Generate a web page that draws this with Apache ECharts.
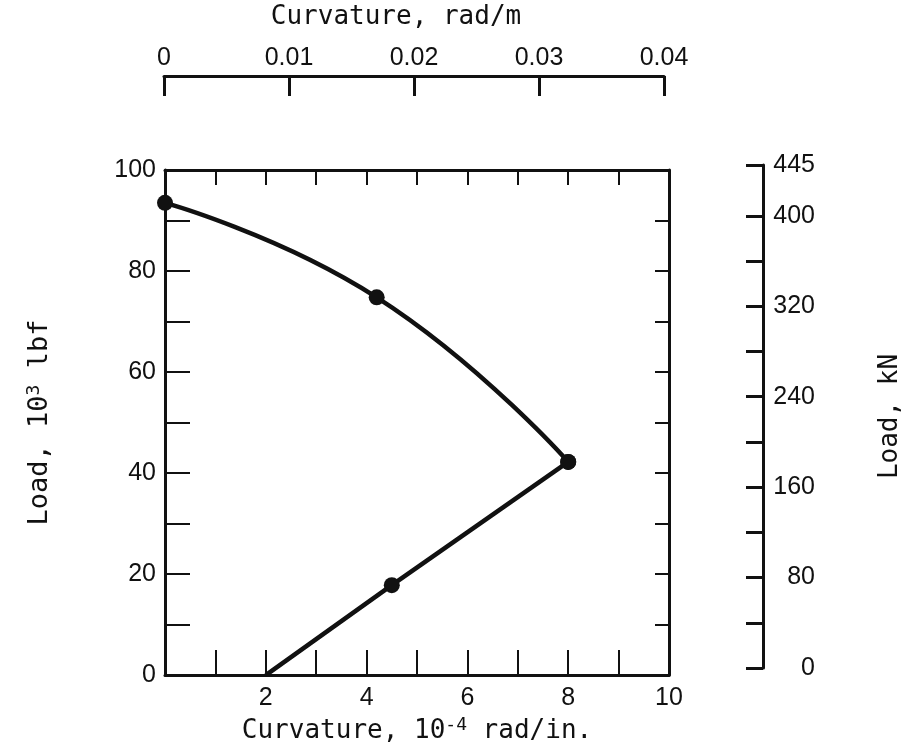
<!DOCTYPE html>
<html>
<head>
<meta charset="utf-8">
<script src="https://cdn.jsdelivr.net/npm/echarts@6/dist/echarts.min.js"></script>
<style>
html,body{margin:0;padding:0;background:#fff;}
#c{width:907px;height:749px;}
</style>
</head>
<body>
<div id="c"></div>
<script>
// Data
const curveX = [0, 4.2, 8.0];          // curvature, 10^-4 rad/in. (upper curved branch)
const curveY = [93.5, 74.8, 42.2];     // load, 10^3 lbf
const lineX = [8.0, 4.5, 2.0];         // lower straight branch
const lineY = [42.2, 17.8, 0];
const lineMarked = [true, true, false];
const bottomLabels = [2, 4, 6, 8, 10];
const leftLabels = [0, 20, 40, 60, 80, 100];
const topLabels = [0, 0.01, 0.02, 0.03, 0.04];
const rightTicks = [0, 40, 80, 120, 160, 200, 240, 280, 320, 360, 400, 445];
const rightLabels = [0, 80, 160, 240, 320, 400, 445];

const INK = '#111';
const numFont = {color: INK, fontFamily: 'Liberation Sans', fontSize: 25};
const titleFont = 'DejaVu Sans Mono';
const axLine = {show: true, onZero: false, lineStyle: {color: INK, width: 3}};
const supStyle = {fontFamily: titleFont, fontSize: 18, verticalAlign: 'top', padding: [0, 0, 12, 0], color: INK};

const chart = echarts.init(document.getElementById('c'), null, {renderer: 'canvas'});

const option = {
  backgroundColor: '#fff',
  animation: false,
  grid: [
    {left: 165, top: 170, width: 504, height: 507},
    {left: 700, top: 165, width: 63, height: 503},
    {left: 164, top: 76, width: 500, height: 30}
  ],
  xAxis: [
    {
      gridIndex: 0, type: 'value', position: 'bottom', min: 0, max: 10, interval: 1,
      axisLine: axLine,
      axisTick: {show: true, inside: true, length: 25, lineStyle: {color: INK, width: 2}},
      splitLine: {show: false},
      axisLabel: Object.assign({}, numFont, {margin: 11,
        formatter: v => bottomLabels.includes(v) ? String(v) : ''}),
      name: 'Curvature, 10{sup|-4} rad/in.',
      nameLocation: 'middle', nameGap: 36,
      nameTextStyle: {color: INK, fontFamily: titleFont, fontSize: 26, rich: {sup: supStyle}}
    },
    {
      gridIndex: 0, type: 'value', position: 'top', min: 0, max: 10, interval: 1,
      axisLine: axLine,
      axisTick: {show: true, inside: true, length: 15, lineStyle: {color: INK, width: 2}},
      splitLine: {show: false},
      axisLabel: {show: false}
    },
    {
      gridIndex: 1, type: 'value', show: false, min: 0, max: 1
    },
    {
      gridIndex: 2, type: 'value', position: 'top', min: 0, max: 0.04, interval: 0.01,
      axisLine: axLine,
      axisTick: {show: true, inside: true, length: 20, lineStyle: {color: INK, width: 3}},
      splitLine: {show: false},
      axisLabel: Object.assign({}, numFont, {margin: 5,
        formatter: v => topLabels.some(t => Math.abs(t - v) < 1e-9) ? (v === 0 ? '0' : v.toFixed(2)) : ''}),
      name: 'Curvature, rad/m',
      nameLocation: 'middle', nameGap: 46,
      nameTextStyle: {color: INK, fontFamily: titleFont, fontSize: 26, padding: [0, 36, 0, 0]}
    }
  ],
  yAxis: [
    {
      gridIndex: 0, type: 'value', position: 'left', min: 0, max: 100, interval: 10,
      axisLine: axLine,
      axisTick: {show: true, inside: true, length: 25, lineStyle: {color: INK, width: 2}},
      splitLine: {show: false},
      axisLabel: Object.assign({}, numFont, {margin: 9,
        formatter: v => leftLabels.includes(v) ? String(v) : ''}),
      name: 'Load, 10{sup|3} lbf',
      nameLocation: 'middle', nameGap: 110, nameRotate: 90,
      nameTextStyle: {color: INK, fontFamily: titleFont, fontSize: 27, rich: {sup: supStyle}}
    },
    {
      gridIndex: 0, type: 'value', position: 'right', min: 0, max: 100, interval: 10,
      axisLine: axLine,
      axisTick: {show: true, inside: true, length: 14, lineStyle: {color: INK, width: 2}},
      splitLine: {show: false},
      axisLabel: {show: false}
    },
    {
      gridIndex: 1, type: 'value', position: 'right', min: 0, max: 445,
      axisLine: axLine,
      axisTick: {show: true, inside: true, length: 17, customValues: rightTicks, lineStyle: {color: INK, width: 3}},
      splitLine: {show: false},
      axisLabel: Object.assign({}, numFont, {margin: 52, align: 'right', customValues: rightLabels}),
      name: 'Load, kN',
      nameLocation: 'middle', nameGap: 114, nameRotate: 90,
      nameTextStyle: {color: INK, fontFamily: titleFont, fontSize: 26}
    },
    {
      gridIndex: 2, type: 'value', show: false, min: 0, max: 1
    }
  ],
  series: [
    {
      type: 'line', xAxisIndex: 0, yAxisIndex: 0, smooth: true,
      data: curveX.map((x, i) => [x, curveY[i]]),
      symbol: 'circle', symbolSize: 16,
      itemStyle: {color: INK},
      lineStyle: {color: INK, width: 4.5},
      z: 5
    },
    {
      type: 'line', xAxisIndex: 0, yAxisIndex: 0,
      data: lineX.map((x, i) => ({value: [x, lineY[i]], symbol: lineMarked[i] ? 'circle' : 'none'})),
      symbol: 'circle', symbolSize: 16,
      itemStyle: {color: INK},
      lineStyle: {color: INK, width: 4.5},
      z: 5
    }
  ]
};
chart.setOption(option);
</script>
</body>
</html>
